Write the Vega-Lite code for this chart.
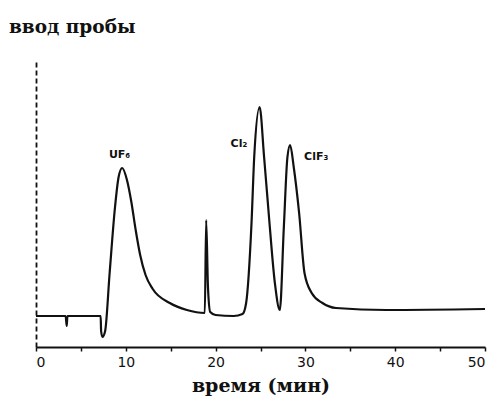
{
  "$schema": "https://vega.github.io/schema/vega-lite/v6.json",
  "autosize": {"type": "none"},
  "width": 449,
  "height": 287,
  "padding": {"left": 36, "top": 60, "right": 19, "bottom": 52},
  "background": "white",
  "config": {"view": {"stroke": null}},
  "title": {
    "text": "ввод пробы",
    "anchor": "start",
    "frame": "group",
    "dx": -27,
    "offset": 24,
    "font": "DejaVu Serif",
    "fontSize": 18.5,
    "fontWeight": "bold",
    "color": "#111"
  },
  "datasets": {
    "trace": [
      {"t": 0, "s": 31}, {"t": 3.3, "s": 31}, {"t": 3.42, "s": 21}, {"t": 3.5, "s": 31},
      {"t": 7.2, "s": 31}, {"t": 7.25, "s": 16}, {"t": 7.4, "s": 10}, {"t": 7.7, "s": 16},
      {"t": 8.2, "s": 74}, {"t": 8.8, "s": 140}, {"t": 9.2, "s": 170}, {"t": 9.6, "s": 179},
      {"t": 10.1, "s": 168}, {"t": 10.6, "s": 146}, {"t": 11.1, "s": 117}, {"t": 11.6, "s": 92},
      {"t": 12.2, "s": 72}, {"t": 13.0, "s": 58}, {"t": 14.9, "s": 44}, {"t": 16.8, "s": 37},
      {"t": 18.8, "s": 34}, {"t": 18.95, "s": 127}, {"t": 19.15, "s": 60}, {"t": 19.4, "s": 35},
      {"t": 20, "s": 32}, {"t": 22, "s": 31}, {"t": 23.0, "s": 33}, {"t": 23.4, "s": 44},
      {"t": 24.0, "s": 124}, {"t": 24.3, "s": 190}, {"t": 24.9, "s": 240}, {"t": 25.4, "s": 190},
      {"t": 26.0, "s": 124}, {"t": 26.6, "s": 64}, {"t": 27.15, "s": 37}, {"t": 27.6, "s": 120},
      {"t": 28.0, "s": 190}, {"t": 28.3, "s": 202}, {"t": 28.7, "s": 180}, {"t": 29.3, "s": 134},
      {"t": 29.9, "s": 74}, {"t": 30.7, "s": 54}, {"t": 31.9, "s": 44}, {"t": 33.4, "s": 39},
      {"t": 39, "s": 37}, {"t": 50, "s": 38}
    ],
    "labels": [
      {"t": 9.3, "s": 192, "label": "UF₆"},
      {"t": 22.6, "s": 203, "label": "Cl₂"},
      {"t": 31.2, "s": 190, "label": "ClF₃"}
    ]
  },
  "layer": [
    {
      "data": {"name": "trace"},
      "mark": {"type": "line", "color": "#111", "strokeWidth": 2.2, "interpolate": "monotone"},
      "encoding": {
        "x": {
          "field": "t", "type": "quantitative",
          "scale": {"domain": [0, 50], "nice": false},
          "axis": {
            "title": "время (мин)",
            "titleFont": "DejaVu Serif",
            "titleFontSize": 19,
            "titleFontWeight": "bold",
            "titleColor": "#111",
            "titlePadding": 7,
            "values": [0, 5, 10, 15, 20, 25, 30, 35, 40, 45, 50],
            "labelExpr": "datum.value % 10 == 0 ? datum.label : ''",
            "labelFont": "DejaVu Sans",
            "labelFontSize": 14,
            "labelColor": "#111",
            "labelPadding": 4,
            "domainColor": "#111",
            "domainWidth": 2,
            "tickColor": "#111",
            "tickSize": 4,
            "tickWidth": 1.5,
            "grid": false
          }
        },
        "y": {
          "field": "s", "type": "quantitative",
          "scale": {"domain": [0, 287], "nice": false},
          "axis": {
            "title": null,
            "labels": false,
            "ticks": false,
            "grid": false,
            "domainColor": "#111",
            "domainWidth": 1.8,
            "domainDash": [5, 3]
          }
        }
      }
    },
    {
      "data": {"name": "labels"},
      "mark": {"type": "text", "font": "DejaVu Sans", "fontSize": 11, "fontWeight": "bold", "color": "#111"},
      "encoding": {
        "x": {"field": "t", "type": "quantitative"},
        "y": {"field": "s", "type": "quantitative"},
        "text": {"field": "label"}
      }
    }
  ]
}
